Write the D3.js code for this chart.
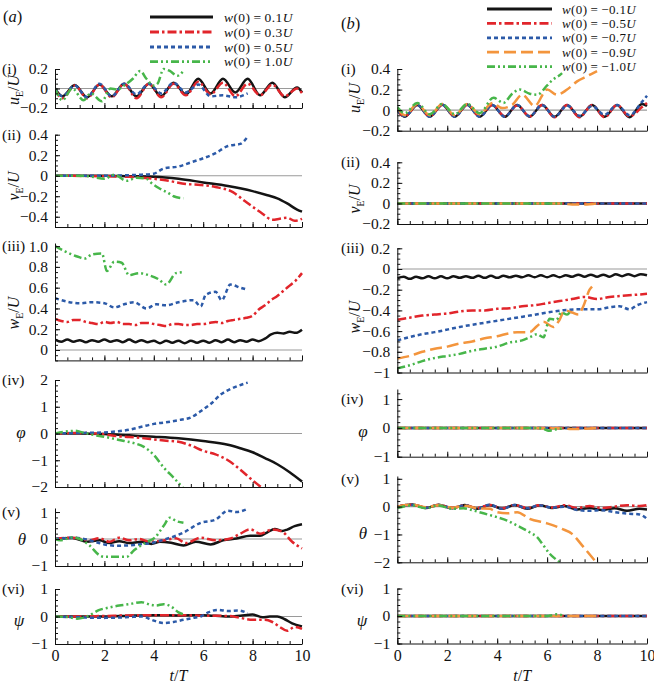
<!DOCTYPE html>
<html><head><meta charset="utf-8">
<script src="https://cdn.jsdelivr.net/npm/d3@7"></script>
<style>
body{margin:0;background:#fff}
svg{display:block}
text{font-family:"Liberation Serif","Times New Roman",serif;fill:#111}
</style>
</head><body>
<svg id="chart" width="654" height="685"></svg>
<script>
// ---------------- DATA ----------------
const tOsc = [0,0.3,0.8,1.3,1.8,2.3,2.8,3.3,3.8,4.3,4.8,5.3,5.8,6.3,6.8,7.3,7.8,8.3,8.8,9.3,9.8,10];
const tQ = [0,0.25,0.5,0.75,1,1.25,1.5,1.75,2,2.25,2.5,2.75,3,3.25,3.5,3.75,4,4.25,4.5,4.75,5,5.25,5.5,5.75,6,6.25,6.5,6.75,7,7.25,7.5,7.75,8,8.25,8.5,8.75,9,9.25,9.5,9.75,10];
const xTicksMajor = [0,2,4,6,8,10];

const legendA = ["0.1","0.3","0.5","1.0"];
const legendB = ["\u22120.1","\u22120.5","\u22120.7","\u22120.9","\u22121.0"];

// (a)(i) u_E/U
const uA_black = [0,-0.08,0.035,-0.09,0.04,-0.08,0.05,-0.08,0.05,-0.08,0.06,-0.06,0.1,-0.05,0.1,-0.04,0.1,-0.07,0.06,-0.09,0.01,-0.04];
const uA_red   = [0,-0.1,0.03,-0.1,0.04,-0.09,0.05,-0.1,0.05,-0.09,0.05,-0.07,0.07,-0.06,0.06,-0.08,0.05,-0.07,0.04,-0.08,0.0,-0.05];
const uA_blue_t = [0,0.3,0.8,1.3,1.8,2.3,2.8,3.3,3.8,4.3,4.8,5.3,5.8,6.3,6.8,7.3,7.8];
const uA_blue  = [0,-0.08,0.03,-0.09,0.05,-0.08,0.05,-0.06,0.05,-0.05,0.06,-0.04,0.04,-0.08,-0.07,-0.09,-0.05];
const uA_green_t = [0,0.3,0.7,1.15,1.45,1.9,2.25,2.5,2.8,3.15,3.45,3.7,4.0,4.15,4.4,4.65,4.95,5.2];
const uA_green = [0,-0.12,0.0,-0.12,-0.05,-0.13,0.0,-0.01,0.03,0.1,0.18,0.1,0.03,0.05,0.2,0.18,0.13,0.18];

// (a)(ii) v_E/U
const vA_black_t = [0,2,3,4,5,6,7,8,8.6,9,9.4,9.8,10];
const vA_black = [0,0,-0.005,-0.01,-0.03,-0.065,-0.1,-0.15,-0.19,-0.22,-0.27,-0.33,-0.35];
const vA_red_t = [0,3,3.5,4,4.6,5.3,5.9,6.5,7.2,7.7,8.1,8.4,8.8,9.1,9.4,9.7,10];
const vA_red = [0,-0.01,-0.02,-0.03,-0.05,-0.08,-0.09,-0.11,-0.16,-0.25,-0.32,-0.37,-0.43,-0.42,-0.41,-0.44,-0.42];
const vA_blue_t = [0,2,3,3.5,4,4.4,5,5.5,6,6.5,7,7.5,7.8];
const vA_blue = [0,0,0.005,0.01,0.02,0.07,0.09,0.13,0.17,0.22,0.29,0.31,0.38];
const vA_green_t = [0,1,1.5,2,2.4,2.9,3.3,3.7,3.9,4.2,4.6,4.8,5.2];
const vA_green = [0,0,-0.01,-0.03,0.01,-0.05,-0.02,-0.03,-0.07,-0.12,-0.17,-0.2,-0.22];

// (a)(iii) w_E/U
const wA_black = [0.1,0.08,0.1,0.08,0.095,0.075,0.095,0.08,0.1,0.08,0.095,0.075,0.1,0.075,0.095,0.075,0.09,0.065,0.09,0.07,0.09,0.065,0.09,0.07,0.09,0.07,0.095,0.075,0.1,0.075,0.095,0.08,0.1,0.085,0.11,0.15,0.165,0.16,0.175,0.165,0.195];
const wA_red = [0.3,0.28,0.27,0.29,0.29,0.27,0.26,0.25,0.27,0.26,0.27,0.25,0.25,0.24,0.26,0.26,0.25,0.24,0.23,0.25,0.25,0.24,0.24,0.25,0.25,0.26,0.27,0.26,0.28,0.29,0.3,0.31,0.33,0.39,0.43,0.48,0.52,0.57,0.62,0.67,0.74];
const wA_blue_t = [0,0.5,1.0,1.5,2.0,2.4,2.8,3.2,3.7,4.1,4.5,5.0,5.6,5.9,6.1,6.5,6.75,7.1,7.5,7.8];
const wA_blue = [0.5,0.465,0.45,0.46,0.45,0.41,0.44,0.46,0.4,0.44,0.43,0.46,0.48,0.42,0.53,0.56,0.48,0.63,0.6,0.58];
const wA_green_t = [0,0.4,0.9,1.2,1.5,1.9,2.1,2.4,2.7,3.0,3.4,3.8,4.2,4.5,4.9,5.2];
const wA_green = [1.0,0.95,0.9,0.88,0.92,0.93,0.76,0.85,0.84,0.72,0.74,0.72,0.68,0.63,0.74,0.75];

// (a)(iv) phi
const phA_black_t = [0,1,2,3,4,5,6,7,7.5,8,8.5,9,9.5,10];
const phA_black = [0,0,-0.02,-0.07,-0.12,-0.18,-0.28,-0.42,-0.55,-0.7,-0.92,-1.15,-1.45,-1.8];
const phA_red_t = [0,1,2,2.5,3,3.5,4,4.5,5,5.5,6,6.5,7,7.5,8,8.4];
const phA_red = [0,0.02,-0.03,-0.1,-0.13,-0.17,-0.22,-0.27,-0.31,-0.45,-0.65,-0.78,-1.0,-1.35,-1.75,-2.05];
const phA_blue_t = [0,1,2,2.5,3,3.5,4,4.5,5,5.5,6,6.3,6.7,7.2,7.8];
const phA_blue = [0,0.02,0.04,0.08,0.14,0.25,0.36,0.42,0.5,0.6,0.9,1.1,1.45,1.7,1.9];
const phA_green_t = [0,0.5,0.8,1.2,1.6,2,2.4,2.8,3.2,3.6,4.0,4.4,4.8,5.2];
const phA_green = [0,0.08,0.1,0.02,-0.06,-0.12,-0.2,-0.28,-0.36,-0.5,-0.8,-1.27,-1.65,-2.05];

// (a)(v) theta
const thA_black_t = [0,0.7,1.3,1.8,2.2,2.6,3.0,3.5,3.9,4.25,4.7,5.2,5.7,6.3,6.8,7.35,7.9,8.3,8.6,8.9,9.2,9.4,9.7,10];
const thA_black = [0,0.04,-0.1,-0.05,-0.15,-0.08,-0.15,-0.1,-0.18,-0.1,-0.14,-0.24,-0.1,-0.2,-0.05,0.02,0.12,0.12,0.25,0.37,0.3,0.35,0.48,0.55];
const thA_red_t = [0,0.7,1.4,1.8,2.2,2.6,3.0,3.4,3.85,4.4,4.9,5.3,5.9,6.5,7.1,7.5,7.9,8.3,8.8,9.2,9.6,10];
const thA_red = [0,0.05,-0.05,0.03,-0.1,0.05,-0.05,0,-0.1,-0.05,0.03,-0.15,0.05,-0.05,0.02,0.2,0.36,0.2,0.35,0.27,-0.1,-0.35];
const thA_blue_t = [0,0.7,1.3,1.6,2.0,2.5,3.2,3.6,3.9,4.2,4.5,5.2,5.9,6.5,7.0,7.35,7.8];
const thA_blue = [0,0.05,-0.02,-0.1,-0.2,-0.25,-0.22,-0.18,-0.15,-0.08,0,0.24,0.6,0.72,1.05,1.0,1.12];
const thA_green_t = [0,0.2,0.7,1.0,1.4,1.8,2.0,2.5,2.9,3.2,3.7,4.05,4.4,4.65,4.9,5.2];
const thA_green = [0,-0.05,0.06,0,-0.24,-0.6,-0.66,-0.66,-0.66,-0.42,-0.12,0.06,0.49,0.79,0.67,0.6];

// (a)(vi) psi
const psA_black_t = [0,1,2,3,4,5,6,7,7.5,8,8.4,8.7,9.0,9.3,9.6,10];
const psA_black = [0,0,0,0.03,0.05,0.04,0.05,0,0.03,0.07,-0.03,0,0,-0.1,-0.25,-0.36];
const psA_red_t = [0,1,2,3,4,5,6,7,7.5,8,8.5,8.8,9.1,9.4,9.7,10];
const psA_red = [0,0,0.02,0.04,0.05,0.05,0.03,0.02,-0.05,-0.12,-0.12,-0.2,-0.38,-0.52,-0.38,-0.45];
const psA_blue_t = [0,1,2,2.5,3,3.5,4,4.4,4.8,5.2,5.6,5.9,6.2,6.6,7.0,7.4,7.8];
const psA_blue = [0,-0.03,-0.05,-0.04,-0.02,0,-0.15,-0.24,-0.2,-0.12,-0.05,0,0.15,0.24,0.2,0.22,0.12];
const psA_green_t = [0,0.5,0.9,1.3,1.8,2.2,2.6,3.0,3.5,3.9,4.1,4.4,4.8,5.0,5.2];
const psA_green = [0,-0.02,-0.08,0,0.24,0.33,0.4,0.45,0.52,0.42,0.4,0.45,0.3,0.15,0.08];

// (b)(i) u_E/U
const uB_black = [0,-0.065,0.05,-0.065,0.055,-0.065,0.055,-0.065,0.05,-0.065,0.05,-0.065,0.05,-0.065,0.05,-0.065,0.05,-0.065,0.05,-0.07,0.06,0.04];
const uB_red   = [0,-0.06,0.05,-0.06,0.05,-0.06,0.05,-0.06,0.05,-0.06,0.045,-0.06,0.05,-0.07,0.05,-0.07,0.05,-0.07,0.05,-0.06,0.03,0.07];
const uB_blue  = [0,-0.06,0.05,-0.065,0.05,-0.065,0.05,-0.065,0.05,-0.065,0.05,-0.06,0.05,-0.065,0.045,-0.055,0.04,-0.045,0.05,-0.05,0.08,0.14];
const uB_orange_t = [0,0.3,0.8,1.3,1.8,2.3,2.8,3.3,3.8,4.2,4.6,5.0,5.5,6.0,6.4,6.8,7.2,7.6,8.0];
const uB_orange = [0.02,-0.05,0.06,-0.05,0.06,-0.05,0.06,-0.04,0.07,0.02,0.05,0.15,0.04,0.2,0.15,0.2,0.28,0.33,0.38];
const uB_green_t = [0,0.3,0.8,1.3,1.8,2.3,2.8,3.3,3.85,4.25,4.6,4.9,5.3,5.6,6.0,6.2,6.5,6.6];
const uB_green = [0.03,-0.03,0.07,-0.04,0.06,-0.04,0.06,-0.03,0.12,0.07,0.16,0.2,0.16,0.15,0.24,0.29,0.34,0.36];

// (b)(ii) v_E/U
const vB_full_t = [0,10];
const vB_black = [0,0];
const vB_red = [0,0];
const vB_blue = [0,0];
const vB_orange_t = [0,6.5,7,7.5,8];
const vB_orange = [0,0,-0.01,-0.01,0];
const vB_green_t = [0,6.6];
const vB_green = [0,0];

// (b)(iii) w_E/U
const wB_black = [-0.09,-0.075,-0.095,-0.075,-0.09,-0.07,-0.09,-0.07,-0.09,-0.07,-0.085,-0.07,-0.085,-0.065,-0.085,-0.065,-0.085,-0.065,-0.08,-0.065,-0.08,-0.06,-0.08,-0.06,-0.08,-0.06,-0.08,-0.06,-0.075,-0.055,-0.075,-0.055,-0.075,-0.055,-0.075,-0.05,-0.07,-0.05,-0.07,-0.05,-0.06];
const wB_red_t = [0,0.5,1,1.5,2,2.5,3,3.5,4,4.5,5,5.5,6,6.5,7,7.5,8,8.5,9,9.5,10];
const wB_red = [-0.49,-0.47,-0.45,-0.44,-0.43,-0.41,-0.4,-0.4,-0.385,-0.38,-0.36,-0.35,-0.33,-0.31,-0.29,-0.27,-0.29,-0.27,-0.26,-0.25,-0.24];
const wB_blue_t = [0,1,1.5,2.5,4,5.3,6.6,7.2,8,8.5,8.9,9.3,9.6,10];
const wB_blue = [-0.69,-0.63,-0.61,-0.56,-0.5,-0.45,-0.4,-0.39,-0.39,-0.37,-0.36,-0.39,-0.35,-0.32];
const wB_orange_t = [0,0.5,1,1.5,2,2.5,3,3.5,4,4.5,4.8,5.3,5.6,5.85,6.25,6.5,6.7,7.0,7.25,7.45,7.7,7.8];
const wB_orange = [-0.865,-0.84,-0.8,-0.77,-0.75,-0.72,-0.7,-0.67,-0.65,-0.62,-0.61,-0.61,-0.55,-0.51,-0.56,-0.49,-0.4,-0.42,-0.44,-0.36,-0.2,-0.17];
const wB_green_t = [0,0.5,1,1.5,2,2.5,3,3.5,4,4.5,5,5.3,5.6,5.85,6.1,6.37,6.57,6.8,6.9];
const wB_green = [-0.96,-0.93,-0.89,-0.86,-0.84,-0.82,-0.79,-0.77,-0.75,-0.71,-0.69,-0.66,-0.63,-0.66,-0.48,-0.49,-0.42,-0.44,-0.42];

// (b)(iv) phi
const phB_black = [0,0];
const phB_red = [0,0];
const phB_blue = [0,0];
const phB_orange_t = [0,6.5,7,7.5,8];
const phB_orange = [0,-0.01,-0.04,-0.03,0];
const phB_green_t = [0,5.6,5.9,6.05,6.3,6.6];
const phB_green = [0,0,-0.05,-0.1,-0.06,-0.02];

// (b)(v) theta
const thB_t = [0,0.6,1.15,1.65,2.2,2.7,3.2,3.7,4.2,4.7,5.2,5.7,6.2,6.7,7.2,7.7,8.2,8.7,9.2,9.7,10];
const thB_black = [0,0.08,-0.05,0.07,-0.06,0.06,-0.08,0.06,-0.08,0.06,-0.08,0.05,-0.05,0.02,-0.1,-0.05,-0.12,-0.06,-0.15,-0.08,-0.1];
const thB_red = [0,0.07,-0.03,0.06,-0.04,0.05,-0.05,0.06,-0.06,0.06,-0.05,0.05,-0.03,0.05,-0.05,0.02,-0.05,0.0,0.05,0.02,0.05];
const thB_blue = [0,0.06,-0.04,0.06,-0.05,0.05,-0.08,0.07,-0.08,0.06,-0.06,0.05,-0.04,0.0,-0.12,-0.15,-0.13,-0.2,-0.25,-0.28,-0.44];
const thB_orange_t = [0,0.6,1.15,1.65,2.2,2.7,3.2,3.7,4.0,4.4,4.8,5.3,6.0,6.6,7.0,7.4,7.9];
const thB_orange = [0,0.07,-0.02,0.05,-0.04,0.03,-0.06,-0.08,-0.2,-0.24,-0.2,-0.44,-0.6,-0.8,-0.98,-1.39,-1.93];
const thB_green_t = [0,0.6,1.15,1.65,2.2,2.65,3.05,3.45,4.0,4.4,4.8,5.3,5.6,5.85,6.1,6.4,6.5];
const thB_green = [-0.05,0.04,-0.06,0.04,-0.08,-0.06,-0.14,-0.24,-0.38,-0.5,-0.68,-0.92,-1.1,-1.39,-1.69,-1.93,-2.0];

// (b)(vi) psi
const psB_black = [0,0];
const psB_red = [0,0];
const psB_blue = [0,0];
const psB_orange_t = [0,8];
const psB_orange = [0,0];
const psB_green_t = [0,6,6.2,6.4,6.6];
const psB_green = [0,0,0.03,0.06,0.02];

// ---------------- STYLE ----------------
const STY = {
  black:{c:"#141414", d:null},
  red:{c:"#e1252b", d:"9,3,2.5,3"},
  blue:{c:"#2c5aa8", d:"4,3"},
  orange:{c:"#f3953d", d:"12,5"},
  green:{c:"#47b64a", d:"8,3,2,3,2,3"}
};
const LW = 2.5;

const svg = d3.select("#chart");
const xA = d3.scaleLinear().domain([0,10]).range([55,302]);
const xB = d3.scaleLinear().domain([0,10]).range([397.3,647]);

const fmt1 = d => d===0 ? "0" : d3.format(".1f")(d);
const fmtI = d => d3.format("d")(d);
const fmtMix = d => Number.isInteger(d) ? d3.format("d")(d) : d3.format(".1f")(d);

function S(name,t,v){return {name,t,v};}

const panelsA = [
 {lab:"(i)", y0:108, y1:69, dom:[-0.2,0.2], ticks:[-0.2,0,0.2], minor:0.05, fmt:fmt1, title:{k:"u",x:19,y:90},
  series:[S("black",tOsc,uA_black),S("red",tOsc,uA_red),S("blue",uA_blue_t,uA_blue),S("green",uA_green_t,uA_green)]},
 {lab:"(ii)", y0:227, y1:134.7, dom:[-0.5,0.4], ticks:[-0.4,-0.2,0,0.2,0.4], minor:0.05, fmt:fmt1, title:{k:"v",x:19,y:186},
  series:[S("black",vA_black_t,vA_black),S("red",vA_red_t,vA_red),S("blue",vA_blue_t,vA_blue),S("green",vA_green_t,vA_green)]},
 {lab:"(iii)", y0:360.4, y1:243, dom:[-0.1,1.03], ticks:[0,0.2,0.4,0.6,0.8,1.0], minor:0.05, fmt:fmt1, title:{k:"w",x:19,y:313},
  series:[S("black",tQ,wA_black),S("red",tQ,wA_red),S("blue",wA_blue_t,wA_blue),S("green",wA_green_t,wA_green)]},
 {lab:"(iv)", y0:487, y1:380, dom:[-2,2], ticks:[-2,-1,0,1,2], minor:0.2, fmt:fmtI, title:{k:"\u03C6",x:21,y:433},
  series:[S("black",phA_black_t,phA_black),S("red",phA_red_t,phA_red),S("blue",phA_blue_t,phA_blue),S("green",phA_green_t,phA_green)]},
 {lab:"(v)", y0:566, y1:508, dom:[-1,1.15], ticks:[-1,0,1], minor:0.2, fmt:fmtI, title:{k:"\u03B8",x:22,y:540},
  series:[S("black",thA_black_t,thA_black),S("red",thA_red_t,thA_red),S("blue",thA_blue_t,thA_blue),S("green",thA_green_t,thA_green)]},
 {lab:"(vi)", y0:644, y1:589, dom:[-1,1], ticks:[-1,0,1], minor:0.2, fmt:fmtI, title:{k:"\u03C8",x:19,y:621}, bottom:true,
  series:[S("black",psA_black_t,psA_black),S("red",psA_red_t,psA_red),S("blue",psA_blue_t,psA_blue),S("green",psA_green_t,psA_green)]}
];

const panelsB = [
 {lab:"(i)", y0:130.7, y1:69, dom:[-0.2,0.4], ticks:[-0.2,0,0.2,0.4], minor:0.05, fmt:fmt1, title:{k:"u",x:360,y:98},
  series:[S("black",tOsc,uB_black),S("red",tOsc,uB_red),S("blue",tOsc,uB_blue),S("orange",uB_orange_t,uB_orange),S("green",uB_green_t,uB_green)]},
 {lab:"(ii)", y0:224, y1:162.3, dom:[-0.2,0.4], ticks:[-0.2,0,0.2,0.4], minor:0.05, fmt:fmt1, title:{k:"v",x:360,y:199},
  series:[S("black",vB_full_t,vB_black),S("red",vB_full_t,vB_red),S("blue",vB_full_t,vB_blue),S("orange",vB_orange_t,vB_orange),S("green",vB_green_t,vB_green)]},
 {lab:"(iii)", y0:372.5, y1:248.3, dom:[-1,0.2], ticks:[-1,-0.8,-0.6,-0.4,-0.2,0,0.2], minor:0.05, fmt:fmtMix, title:{k:"w",x:360,y:317},
  series:[S("black",tQ,wB_black),S("red",wB_red_t,wB_red),S("blue",wB_blue_t,wB_blue),S("orange",wB_orange_t,wB_orange),S("green",wB_green_t,wB_green)]},
 {lab:"(iv)", y0:456.7, y1:389, dom:[-1,1.35], ticks:[-1,0,1], minor:0.2, fmt:fmtI, title:{k:"\u03C6",x:363,y:432},
  series:[S("black",vB_full_t,phB_black),S("red",vB_full_t,phB_red),S("blue",vB_full_t,phB_blue),S("orange",phB_orange_t,phB_orange),S("green",phB_green_t,phB_green)]},
 {lab:"(v)", y0:562.3, y1:476, dom:[-2,1.1], ticks:[-2,-1,0,1], minor:0.2, fmt:fmtI, title:{k:"\u03B8",x:363,y:534},
  series:[S("black",thB_t,thB_black),S("red",thB_t,thB_red),S("blue",thB_t,thB_blue),S("orange",thB_orange_t,thB_orange),S("green",thB_green_t,thB_green)]},
 {lab:"(vi)", y0:643.5, y1:588.5, dom:[-1,1], ticks:[-1,0,1], minor:0.2, fmt:fmtI, title:{k:"\u03C8",x:362,y:621}, bottom:true,
  series:[S("black",vB_full_t,psB_black),S("red",vB_full_t,psB_red),S("blue",vB_full_t,psB_blue),S("orange",psB_orange_t,psB_orange),S("green",psB_green_t,psB_green)]}
];

let clipN = 0;
function drawPanel(p, xs, labX){
  const ys = d3.scaleLinear().domain(p.dom).range([p.y0,p.y1]);
  const g = svg.append("g");
  const [xa,xb] = xs.range();
  g.append("line").attr("x1",xa).attr("x2",xb).attr("y1",ys(0)).attr("y2",ys(0))
    .attr("stroke","#9a9a9a").attr("stroke-width",1.1);
  const id = "clip"+(clipN++);
  svg.append("clipPath").attr("id",id).append("rect")
    .attr("x",xa).attr("y",p.y1-2).attr("width",xb-xa+3).attr("height",p.y0-p.y1+2);
  const line = d3.line().x(d=>xs(d[0])).y(d=>ys(d[1])).curve(d3.curveMonotoneX);
  const lg = g.append("g").attr("clip-path",`url(#${id})`);
  p.series.forEach(s=>{
    const st = STY[s.name];
    lg.append("path").datum(s.t.map((t,i)=>[t,s.v[i]]))
      .attr("d",line).attr("fill","none").attr("stroke",st.c).attr("stroke-width",LW)
      .attr("stroke-dasharray",st.d).attr("stroke-linejoin","round");
  });
  const nMinor = Math.round((p.dom[1]-p.dom[0])/p.minor);
  const minorVals = d3.range(0,nMinor+1).map(i=>+(p.dom[0]+i*p.minor).toFixed(4)).filter(v=>v>=p.dom[0]-1e-9 && v<=p.dom[1]+1e-9);
  g.append("g").attr("transform",`translate(${xa},0)`)
    .call(d3.axisLeft(ys).tickValues(minorVals).tickSize(-3).tickSizeOuter(0).tickFormat(""))
    .call(a=>a.select(".domain").remove());
  const ya = g.append("g").attr("transform",`translate(${xa},0)`)
    .call(d3.axisLeft(ys).tickValues(p.ticks).tickSize(-5).tickSizeOuter(0).tickPadding(7).tickFormat(p.fmt));
  ya.selectAll("text").attr("font-family","Liberation Serif").attr("font-size",15.5).attr("fill","#111");
  const minorX = d3.range(0,21).map(i=>i*0.5);
  g.append("g").attr("transform",`translate(0,${p.y0})`)
    .call(d3.axisBottom(xs).tickValues(minorX).tickSize(-3).tickSizeOuter(0).tickFormat(""))
    .call(a=>a.select(".domain").remove());
  const xaG = g.append("g").attr("transform",`translate(0,${p.y0})`)
    .call(d3.axisBottom(xs).tickValues(xTicksMajor).tickSize(-5).tickSizeOuter(0).tickPadding(6)
      .tickFormat(p.bottom ? d3.format("d") : ""));
  xaG.selectAll("text").attr("font-family","Liberation Serif").attr("font-size",16).attr("fill","#111");
  g.selectAll(".domain, .tick line").attr("stroke","#111").attr("stroke-width",1);
  g.append("text").attr("x",labX).attr("y",ys(p.ticks[p.ticks.length-1])+5)
    .attr("font-size",15.5).text(p.lab);
  const t = p.title;
  if(["u","v","w"].includes(t.k)){
    const tt = g.append("text").attr("transform",`translate(${t.x},${t.y}) rotate(-90)`)
      .attr("text-anchor","middle").attr("font-size",16);
    tt.append("tspan").attr("font-style","italic").text(t.k);
    tt.append("tspan").attr("font-size",10).attr("dy",4).text("E");
    tt.append("tspan").attr("dy",-4).text("/");
    tt.append("tspan").attr("font-style","italic").text("U");
  } else {
    g.append("text").attr("x",t.x).attr("y",t.y+5).attr("text-anchor","middle")
      .attr("font-size",17).attr("font-style","italic").text(t.k);
  }
  if(p.bottom){
    const xl = svg.append("text").attr("x",(xa+xb)/2).attr("y",681).attr("text-anchor","middle").attr("font-size",16);
    xl.append("tspan").attr("font-style","italic").text("t");
    xl.append("tspan").text("/");
    xl.append("tspan").attr("font-style","italic").text("T");
  }
}
panelsA.forEach(p=>drawPanel(p,xA,2));
panelsB.forEach(p=>drawPanel(p,xB,341));

function letter(x,y,s){
  const t = svg.append("text").attr("x",x).attr("y",y).attr("font-size",16.5);
  t.append("tspan").text("(");
  t.append("tspan").attr("font-style","italic").text(s);
  t.append("tspan").text(")");
}
letter(3,22,"a");
letter(341,29,"b");

function legend(names, vals, x0, x1, tx, ys, fs){
  names.forEach((n,i)=>{
    const st = STY[n];
    svg.append("line").attr("x1",x0).attr("x2",x1).attr("y1",ys[i]).attr("y2",ys[i])
      .attr("stroke",st.c).attr("stroke-width",LW+0.3).attr("stroke-dasharray",st.d);
    const t = svg.append("text").attr("x",tx).attr("y",ys[i]+4.5).attr("font-size",fs).attr("letter-spacing",0.4);
    t.append("tspan").attr("font-style","italic").text("w");
    t.append("tspan").text("(0)\u2009=\u2009"+vals[i]);
    t.append("tspan").attr("font-style","italic").text("U");
  });
}
legend(["black","red","blue","green"], legendA, 150, 213, 224, [17,32,47,61.7], 13.5);
legend(["black","red","blue","orange","green"], legendB, 487, 552, 562, [9,23.4,37.8,52.2,66.6], 13);
</script>
</body></html>
